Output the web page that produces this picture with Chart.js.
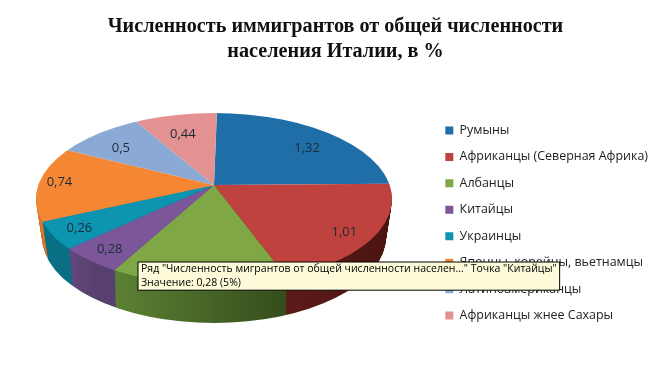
<!DOCTYPE html>
<html>
<head>
<meta charset="utf-8">
<style>
html, body { margin: 0; padding: 0; background: #fff; }
#wrap { width: 658px; height: 380px; }
</style>
<script src="https://cdn.jsdelivr.net/npm/chart.js@4"></script>
</head>
<body>
<div id="wrap"><canvas id="chart"></canvas></div>
<script>
const titleLines = ['Численность иммигрантов от общей численности', 'населения Италии, в %'];
const categories = ['Румыны', 'Африканцы (Северная Африка)', 'Албанцы', 'Китайцы', 'Украинцы', 'Японцы, корейцы, вьетнамцы', 'Латиноамериканцы', 'Африканцы жнее Сахары'];
const values = [1.32, 1.01, 0.85, 0.28, 0.26, 0.74, 0.5, 0.44];
const topColors = ['#1f6ea8', '#c0423f', '#7fa746', '#7b5699', '#0c94b0', '#f58634', '#8aa9d4', '#e39291'];
const sideLeft = ['#14486e', '#5a1a17', '#5f8636', '#6b4d85', '#0a8aa3', '#d9752b', '#6a84a8', '#b57170'];
const sideRight = ['#14486e', '#44120f', '#33491a', '#57406f', '#086f85', '#b0621f', '#6a84a8', '#b57170'];
const seriesName = 'Численность мигрантов от общей численности населен...';
const hoverIndex = 3;

// the 3D look: the rim is an ellipse, the wedge tips meet above its centre
const cx = 214, cy = 185, rimCy = 199, rimRx = 178, rimRy = 86, depth = 38, shrink = 6;
const wedgeRx = 214, backRy = 94, frontRy = 119;

function fmt(v) { return String(v).replace('.', ','); }

function placePie(ctx, el, y, ry) {
    ctx.translate(cx, y);
    ctx.scale(wedgeRx / el.outerRadius, ry / el.outerRadius);
    ctx.translate(-el.x, -el.y);
}

function clipRows(ctx, chart, from, to) {
    ctx.beginPath();
    ctx.rect(0, from, chart.width, to - from);
    ctx.clip();
}

function clipRim(ctx, y, rx) {
    ctx.beginPath();
    ctx.ellipse(cx, y, rx, rimRy, 0, 0, Math.PI * 2);
    ctx.clip();
}

const pie3d = {
    id: 'pie3d',
    beforeDatasetsDraw(chart) {
        const ctx = chart.ctx;
        const arcs = chart.getDatasetMeta(0).data;

        for (let k = depth; k >= 1; k--) {
            ctx.save();
            clipRows(ctx, chart, cy + k, chart.height);
            clipRim(ctx, rimCy + k, rimRx - shrink * k / depth);
            placePie(ctx, arcs[0], cy + k, frontRy);
            arcs.forEach((el, i) => {
                const g = ctx.createLinearGradient(
                    el.x + el.outerRadius * Math.cos(el.endAngle), 0,
                    el.x + el.outerRadius * Math.cos(el.startAngle), 0);
                g.addColorStop(0, sideLeft[i]);
                g.addColorStop(1, sideRight[i]);
                const saved = el.options;
                el.options = { ...saved, backgroundColor: g };
                el.draw(ctx);
                el.options = saved;
            });
            ctx.restore();
        }

        [[0, cy + 0.5, backRy], [cy, chart.height, frontRy]].forEach(([from, to, ry]) => {
            ctx.save();
            clipRows(ctx, chart, from, to);
            clipRim(ctx, rimCy, rimRx);
            placePie(ctx, arcs[0], cy, ry);
            arcs.forEach(el => el.draw(ctx));
            ctx.restore();
        });

        ctx.save();
        ctx.font = '13px "Open Sans"';
        ctx.fillStyle = '#1c2b38';
        ctx.textAlign = 'center';
        ctx.textBaseline = 'middle';
        arcs.forEach((el, i) => {
            const mid = (el.startAngle + el.endAngle) / 2;
            const s = Math.sin(mid);
            const frac = s < -0.3 ? 0.74 : 0.87;
            ctx.fillText(fmt(values[i]),
                cx + Math.cos(mid) * 178 * frac,
                cy + 1 + s * (s > 0 ? 99 : 72) * frac);
        });
        ctx.restore();
        return false;
    }
};

Chart.Tooltip.positioners.fixedBox = function () {
    return { x: 138, y: 262 };
};

const chart = new Chart(document.getElementById('chart'), {
    type: 'pie',
    data: {
        labels: categories,
        datasets: [{ data: values, backgroundColor: topColors, borderWidth: 0, rotation: 1 }]
    },
    options: {
        responsive: true,
        maintainAspectRatio: false,
        animation: false,
        events: [],
        // negative bottom only moves the legend down, the pie has its own placement
        layout: { padding: { left: 13, right: 0, top: 0, bottom: -66 } },
        plugins: {
            title: {
                display: true,
                text: titleLines,
                color: '#111',
                font: { family: '"Liberation Serif"', size: 20.2, weight: 'bold', lineHeight: 1.2 },
                padding: { top: 15, bottom: 10 }
            },
            legend: {
                position: 'right',
                labels: {
                    boxWidth: 8,
                    boxHeight: 8,
                    padding: 14,
                    color: '#222',
                    font: { family: '"Open Sans"', size: 12.45 }
                }
            },
            tooltip: {
                animation: false,
                position: 'fixedBox',
                xAlign: 'left',
                yAlign: 'top',
                caretSize: 0,
                caretPadding: 0,
                cornerRadius: 0,
                displayColors: false,
                backgroundColor: '#fdfbd9',
                borderColor: '#000',
                borderWidth: 1,
                titleColor: '#000',
                bodyColor: '#000',
                titleFont: { family: '"Open Sans"', size: 10.5, weight: 'normal' },
                bodyFont: { family: '"Open Sans"', size: 10.5 },
                titleMarginBottom: 1,
                padding: { left: 3, right: 3, top: 1, bottom: 1 },
                callbacks: {
                    title: items => 'Ряд "' + seriesName + '" Точка "' + categories[items[0].dataIndex] + '"',
                    label: item => {
                        const total = values.reduce((a, b) => a + b, 0);
                        return 'Значение: ' + fmt(item.raw) + ' (' + Math.round(item.raw / total * 100) + '%)';
                    }
                }
            }
        }
    },
    plugins: [pie3d]
});

chart.tooltip.setActiveElements([{ datasetIndex: 0, index: hoverIndex }], { x: 0, y: 0 });
chart.draw();
</script>
</body>
</html>
